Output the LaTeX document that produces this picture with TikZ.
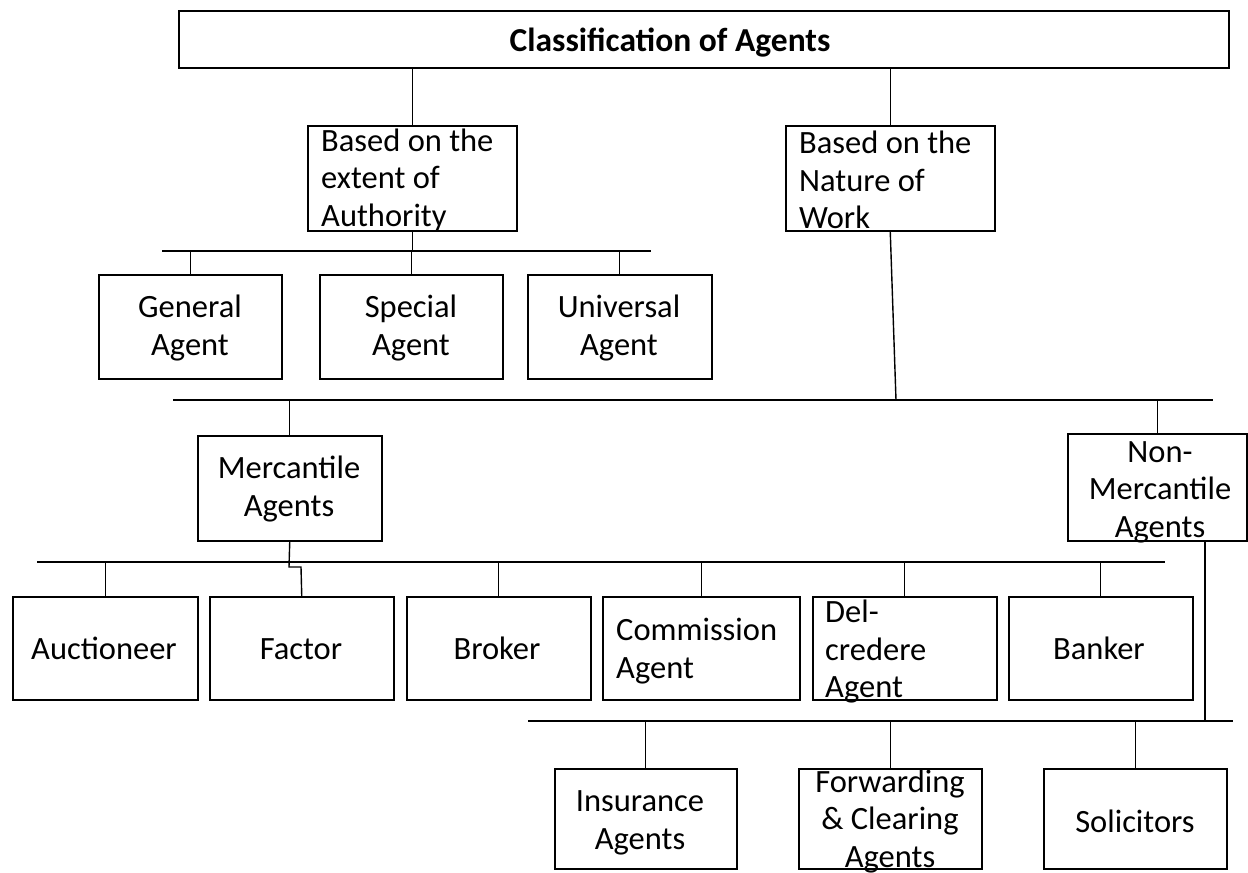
\documentclass[tikz,border=0pt]{standalone}
\usepackage{fontspec}
\setmainfont{Carlito}
\begin{document}
\begin{tikzpicture}[x=1pt,y=-1pt,
  box/.style={draw, line width=1.5pt, inner sep=0pt, anchor=north west},
  lbl/.style={font=\fontsize{32.5}{37.5}\selectfont, inner sep=0pt, align=center},
  one/.style={text height=21pt, text depth=0pt},
  lbll/.style={font=\fontsize{32.5}{37.5}\selectfont, inner sep=0pt, align=left, anchor=west},
  ln/.style={line width=1.4pt}]
\useasboundingbox (0,0) rectangle (1248,873);
% boxes
\node[box, minimum width=1050pt, minimum height=57pt] (title) at (178,10) {};
\node[box, minimum width=209pt, minimum height=105pt] (auth) at (307,125) {};
\node[box, minimum width=209pt, minimum height=105pt] (nat) at (785,125) {};
\node[box, minimum width=183pt, minimum height=104pt] (gen) at (98,274) {};
\node[box, minimum width=183pt, minimum height=104pt] (spe) at (319,274) {};
\node[box, minimum width=184pt, minimum height=104pt] (uni) at (527,274) {};
\node[box, minimum width=184pt, minimum height=105pt] (mer) at (197,435) {};
\node[box, minimum width=179pt, minimum height=107pt] (non) at (1067,433) {};
\node[box, minimum width=185pt, minimum height=103pt] (auc) at (12,596) {};
\node[box, minimum width=184pt, minimum height=103pt] (fac) at (209,596) {};
\node[box, minimum width=184pt, minimum height=103pt] (bro) at (406,596) {};
\node[box, minimum width=197pt, minimum height=103pt] (com) at (602,596) {};
\node[box, minimum width=184pt, minimum height=103pt] (del) at (812,596) {};
\node[box, minimum width=184pt, minimum height=103pt] (ban) at (1008,596) {};
\node[box, minimum width=182pt, minimum height=100pt] (ins) at (554,768) {};
\node[box, minimum width=183pt, minimum height=100pt] (fwd) at (798,768) {};
\node[box, minimum width=183pt, minimum height=100pt] (sol) at (1043,768) {};
% texts
\node[lbl, font=\fontsize{33.5}{37.5}\selectfont\bfseries, text height=22pt, text depth=0pt] (ttitle) at (670,40) {Classification of Agents};
\node[lbll] (tauth) at (321,180) {Based on the\\extent of\\Authority};
\node[lbll] (tnat) at (799,180) {Based on the\\Nature of\\Work};
\node[lbl] (tgen) at (190,328) {General\\Agent};
\node[lbl] (tspe) at (411,328) {Special\\Agent};
\node[lbl] (tuni) at (619,328) {Universal\\Agent};
\node[lbl] (tmer) at (289,489) {Mercantile\\Agents};
\node[lbl] (tnon) at (1160,492) {Non-\\Mercantile\\Agents};
\node[lbl, one] (tauc) at (104,649) {Auctioneer};
\node[lbl, one] (tfac) at (301,649) {Factor};
\node[lbl, one] (tbro) at (497,649) {Broker};
\node[lbll] (tcom) at (616,651) {Commission\\Agent};
\node[lbll] (tdel) at (825,652) {Del-\\credere\\Agent};
\node[lbl, one] (tban) at (1099,649) {Banker};
\node[lbl] (tins) at (640,823) {Insurance\\Agents};
\node[lbl] (tfwd) at (890,821) {Forwarding\\\& Clearing\\Agents};
\node[lbl, one] (tsol) at (1135,822) {Solicitors};
% bar coordinates
\coordinate (b1L) at (162,251); \coordinate (b1R) at (651,251);
\coordinate (b2L) at (173,400); \coordinate (b2R) at (1213,400);
\coordinate (b2j) at (896,400);
\coordinate (b3L) at (37,562);  \coordinate (b3R) at (1165,562);
\coordinate (mj1) at (289,567); \coordinate (mj2) at (301,567);
\coordinate (b4L) at (528,721); \coordinate (b4R) at (1233,721);
\coordinate (nt) at (1205,540); \coordinate (nb) at (1205,721);
% connectors
\draw[ln] (auth.north) -- (auth.north |- title.south);
\draw[ln] (nat.north) -- (nat.north |- title.south);
\draw[ln] (auth.south) -- (auth.south |- b1L);
\draw[ln] (b1L) -- (b1R);
\draw[ln] (gen.north) -- (gen.north |- b1L);
\draw[ln] (spe.north) -- (spe.north |- b1L);
\draw[ln] (uni.north) -- (uni.north |- b1L);
\draw[ln] (nat.south) -- (b2j);
\draw[ln] (b2L) -- (b2R);
\draw[ln] (mer.north) -- (mer.north |- b2L);
\draw[ln] (non.north) -- (non.north |- b2L);
\draw[ln] (b3L) -- (b3R);
\draw[ln] (mer.south) -- (mj1) -- (mj2) -- (fac.north);
\draw[ln] (auc.north) -- (auc.north |- b3L);
\draw[ln] (bro.north) -- (bro.north |- b3L);
\draw[ln] (com.north) -- (com.north |- b3L);
\draw[ln] (del.north) -- (del.north |- b3L);
\draw[ln] (ban.north) -- (ban.north |- b3L);
\draw[ln] (nt) -- (nb);
\draw[ln] (b4L) -- (b4R);
\draw[ln] (ins.north) -- (ins.north |- b4L);
\draw[ln] (fwd.north) -- (fwd.north |- b4L);
\draw[ln] (sol.north) -- (sol.north |- b4L);
\end{tikzpicture}
\end{document}
